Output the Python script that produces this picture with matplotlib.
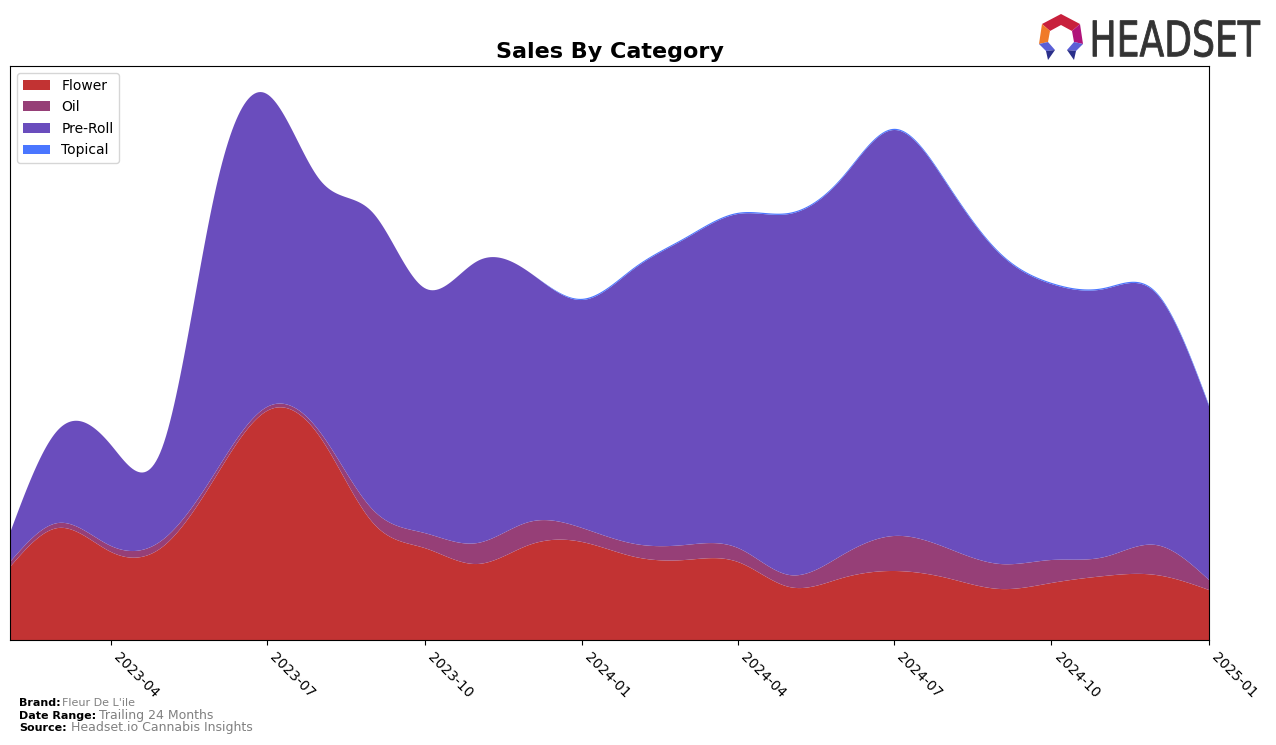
import matplotlib
matplotlib.use("Agg")
import matplotlib.pyplot as plt
import matplotlib.dates as mdates
from matplotlib.patches import Polygon, PathPatch
from matplotlib.textpath import TextPath
from matplotlib.font_manager import FontProperties
from matplotlib.transforms import Affine2D
import numpy as np
import pandas as pd

# monthly sales (arbitrary units)
months = pd.date_range("2023-02-01", "2025-01-01", freq="MS")
flower = [73, 112, 88, 93, 163, 229, 203, 117, 92, 76, 95, 98,
          83, 80, 78, 53, 62, 69, 62, 51, 57, 64, 65, 50]
oil = [5, 5, 6, 7, 5, 4, 5, 13, 15, 21, 23, 14,
       13, 15, 14, 12, 23, 35, 30, 25, 23, 19, 30, 10]
pre_roll = [29, 93, 101, 93, 282, 313, 252, 297, 245, 282, 250, 228,
            276, 306, 334, 361, 377, 406, 364, 310, 276, 268, 252, 174]
topical = [0, 0, 0, 0, 0, 0, 0, 0, 0, 0, 0, 1.2,
           1.2, 1.2, 1.2, 1.2, 1.2, 1.2, 1.2, 1.2, 1.2, 1.2, 1.2, 1.2]

categories = ["Flower", "Oil", "Pre-Roll", "Topical"]
colors = ["#c23333", "#963f77", "#6a4dbd", "#4a76ff"]


def natural_spline(x, y, xs):
    """Natural cubic spline through (x, y), evaluated at xs."""
    x = np.asarray(x, float)
    y = np.asarray(y, float)
    n = len(x)
    h = np.diff(x)
    A = np.zeros((n, n))
    b = np.zeros(n)
    A[0, 0] = A[-1, -1] = 1.0
    for i in range(1, n - 1):
        A[i, i - 1] = h[i - 1]
        A[i, i] = 2 * (h[i - 1] + h[i])
        A[i, i + 1] = h[i]
        b[i] = 3 * ((y[i + 1] - y[i]) / h[i] - (y[i] - y[i - 1]) / h[i - 1])
    c = np.linalg.solve(A, b)
    idx = np.clip(np.searchsorted(x, xs) - 1, 0, n - 2)
    dx = xs - x[idx]
    bb = (y[idx + 1] - y[idx]) / h[idx] - h[idx] * (2 * c[idx] + c[idx + 1]) / 3
    d = (c[idx + 1] - c[idx]) / (3 * h[idx])
    return y[idx] + bb * dx + c[idx] * dx ** 2 + d * dx ** 3


xnum = mdates.date2num(months)
xs = np.linspace(xnum[0], xnum[-1], 600)
series = [flower, oil, pre_roll, topical]
smooth = [np.clip(natural_spline(xnum, s, xs), 0, None) for s in series]

fig = plt.figure(figsize=(12.76, 7.45), dpi=100)
ax = fig.add_axes([10 / 1276, 105 / 745, 1199 / 1276, 574 / 745])
ax.stackplot(xs, *smooth, labels=categories, colors=colors)
ax.set_xlim(xnum[0], xnum[-1])
ax.set_ylim(0, 574)
ax.set_yticks([])
ax.xaxis.set_major_locator(mdates.MonthLocator(bymonth=[1, 4, 7, 10]))
ax.xaxis.set_major_formatter(mdates.DateFormatter("%Y-%m"))
plt.setp(ax.get_xticklabels(), rotation=-45, ha="left", fontsize=10)
ax.set_title("Sales By Category", fontsize=16, fontweight="bold", pad=6)
ax.legend(loc="upper left", fontsize=10, labelspacing=0.55)

# footer
fig.canvas.draw()
rend = fig.canvas.get_renderer()
footer = [("Brand:", "Fleur De L'ile", 8, 703, 1),
          ("Date Range:", "Trailing 24 Months", 9, 716, 3),
          ("Source:", "Headset.io Cannabis Insights", 9, 728, 4)]
for bold, grey, gsize, ypx, gap in footer:
    t = fig.text(19 / 1276, 1 - ypx / 745, bold, fontsize=8, fontweight="bold",
                 va="center", ha="left")
    w = t.get_window_extent(rend).width
    fig.text((19 + w + gap) / 1276, 1 - ypx / 745, grey, fontsize=gsize,
             color="#808080", va="center", ha="left")

# logo, drawn in pixel coordinates (origin top-left)
px = Affine2D().scale(1, -1).translate(0, 745)
logo = [
    ([(1042, 24), (1061, 14), (1080, 24), (1072, 31), (1061, 25), (1050, 31)], "#c8203c"),
    ([(1042, 24), (1050, 31), (1048, 42), (1039, 44)], "#f07a28"),
    ([(1080, 24), (1083, 44), (1074, 42), (1072, 31)], "#b0137a"),
    ([(1039, 44), (1048, 42), (1055, 50), (1046, 51)], "#5b5fd6"),
    ([(1046, 51), (1055, 50), (1048, 60)], "#2a2f8a"),
    ([(1083, 44), (1074, 42), (1067, 50), (1076, 51)], "#5b5fd6"),
    ([(1076, 51), (1067, 50), (1074, 60)], "#2a2f8a"),
]
for pts, col in logo:
    fig.patches.append(Polygon(pts, closed=True, facecolor=col, edgecolor="none",
                               transform=px, figure=fig))

tp = TextPath((0, 0), "HEADSET", size=100, prop=FontProperties(family="DejaVu Sans"))
bb = tp.get_extents()
sx = (1260 - 1093) / bb.width
sy = (57 - 20) / bb.height
tr = Affine2D().translate(-bb.x0, -bb.y0).scale(sx, sy).translate(1093, 745 - 57)
fig.patches.append(PathPatch(tr.transform_path(tp), facecolor="#333333",
                             edgecolor="#333333", linewidth=0.6,
                             transform=Affine2D(), figure=fig))

fig.savefig("out.png", dpi=100)
